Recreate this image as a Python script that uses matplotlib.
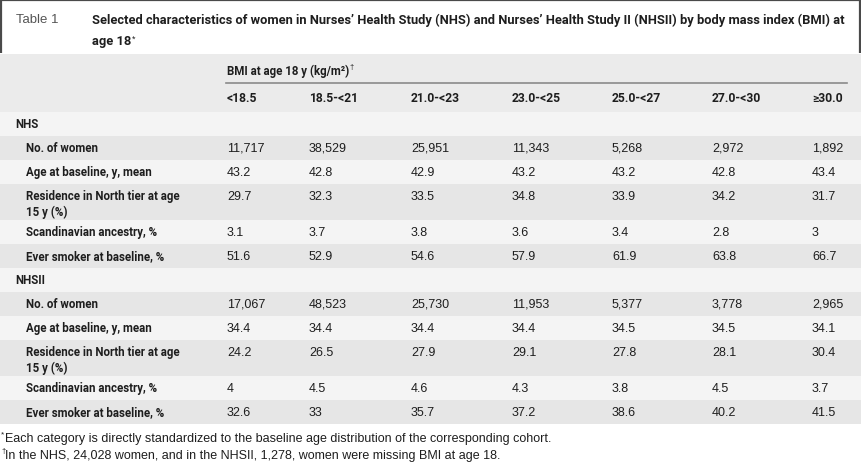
import matplotlib
matplotlib.use("Agg")
import matplotlib.pyplot as plt
from matplotlib.patches import Rectangle

# table content
bmi_categories = ["<18.5", "18.5-<21", "21.0-<23", "23.0-<25", "25.0-<27", "27.0-<30", "\u226530.0"]
row_labels = ["No. of women", "Age at baseline, y, mean", "Residence in North tier at age\n15 y (%)",
              "Scandinavian ancestry, %", "Ever smoker at baseline, %"]
cohorts = ["NHS", "NHSII"]

nhs_women = [11717, 38529, 25951, 11343, 5268, 2972, 1892]
nhs_age = [43.2, 42.8, 42.9, 43.2, 43.2, 42.8, 43.4]
nhs_north = [29.7, 32.3, 33.5, 34.8, 33.9, 34.2, 31.7]
nhs_scand = [3.1, 3.7, 3.8, 3.6, 3.4, 2.8, 3]
nhs_smoker = [51.6, 52.9, 54.6, 57.9, 61.9, 63.8, 66.7]

nhsii_women = [17067, 48523, 25730, 11953, 5377, 3778, 2965]
nhsii_age = [34.4, 34.4, 34.4, 34.4, 34.5, 34.5, 34.1]
nhsii_north = [24.2, 26.5, 27.9, 29.1, 27.8, 28.1, 30.4]
nhsii_scand = [4, 4.5, 4.6, 4.3, 3.8, 4.5, 3.7]
nhsii_smoker = [32.6, 33, 35.7, 37.2, 38.6, 40.2, 41.5]

title = ("Selected characteristics of women in Nurses\u2019 Health Study (NHS) and Nurses\u2019 Health Study II "
         "(NHSII) by body mass index (BMI) at")
title2 = "age 18"
bmi_header = "BMI at age 18 y (kg/m\u00b2)"
footnote1 = "Each category is directly standardized to the baseline age distribution of the corresponding cohort."
footnote2 = "In the NHS, 24,028 women, and in the NHSII, 1,278, women were missing BMI at age 18."

cohort_rows = {"NHS": [nhs_women, nhs_age, nhs_north, nhs_scand, nhs_smoker],
               "NHSII": [nhsii_women, nhsii_age, nhsii_north, nhsii_scand, nhsii_smoker]}


def fmt(v, is_count):
    if is_count:
        return f"{v:,}"
    return str(v)


plt.rcParams['font.family'] = ['Liberation Sans', 'DejaVu Sans']
W, H = 862, 464
fig = plt.figure(figsize=(W / 100, H / 100), dpi=100)
ax = fig.add_axes([0, 0, 1, 1])
ax.set_xlim(0, W)
ax.set_ylim(H, 0)
ax.axis("off")
renderer = fig.canvas.get_renderer()

ink = "#1e1e1e"
col_x = [227, 309, 411, 512, 612, 712, 812]
fs_val = 9.0
bold = dict(family=["Roboto", "DejaVu Sans"], fontweight="bold", fontsize=8.3, color=ink)


def marker_after(t, sym, dy=-4, size=5.5):
    # small superscript footnote mark right after a text
    bb = t.get_window_extent(renderer)
    x_end = ax.transData.inverted().transform((bb.x1, 0))[0]
    ax.text(x_end + 0.5, t.get_position()[1] + dy, sym, fontsize=size, color=ink, va="center")


# title box
ax.plot([1.5, 1.5, 860.5, 860.5], [54, 0.8, 0.8, 54], color="#4a4a4a", lw=1.6, solid_capstyle="butt")
ax.text(16, 20, "Table 1", fontsize=9.5, color="#555555", va="center")
ax.text(92, 20, title, **{**bold, "fontsize": 9.28}, va="center")
t2 = ax.text(92, 42, title2, **{**bold, "fontsize": 9.28}, va="center")
marker_after(t2, "*", dy=-3, size=6.5)

# header block
ax.add_patch(Rectangle((0, 55), W, 58, color="#ebebeb", lw=0))
th = ax.text(col_x[0], 71, bmi_header, **bold, va="center")
marker_after(th, "\u2020", dy=-3)
ax.plot([226, 847], [84, 84], color="#8a8a8a", lw=1.2)
for x, c in zip(col_x, bmi_categories):
    ax.text(x, 99, c, **{**bold, "fontsize": 8.7}, va="center")

# body rows
light, dark = "#f4f4f4", "#e6e6e6"
y = 113
for cohort in cohorts:
    ax.add_patch(Rectangle((0, y), W, 24, color=light, lw=0))
    ax.text(15, y + 12, cohort, **bold, va="center")
    y += 24
    for i, (label, vals) in enumerate(zip(row_labels, cohort_rows[cohort])):
        h = 36 if "\n" in label else 24
        ax.add_patch(Rectangle((0, y), W, h, color=dark if i % 2 == 0 else light, lw=0))
        if h > 24:
            ax.text(26, y + 5, label, **bold, va="top", linespacing=1.25)
        else:
            ax.text(26, y + 12, label, **bold, va="center")
        for x, v in zip(col_x, vals):
            ax.text(x, y + 12, fmt(v, i == 0), fontsize=fs_val, color=ink, va="center")
        y += h

# footnotes
ax.text(1, 435, "*", fontsize=6, color=ink, va="center")
ax.text(5, 439, footnote1, fontsize=fs_val, color=ink, va="center")
ax.text(1, 452, "\u2020", fontsize=5.5, color=ink, va="center")
ax.text(5, 456, footnote2, fontsize=fs_val, color=ink, va="center")

fig.savefig("out.png", dpi=100)
